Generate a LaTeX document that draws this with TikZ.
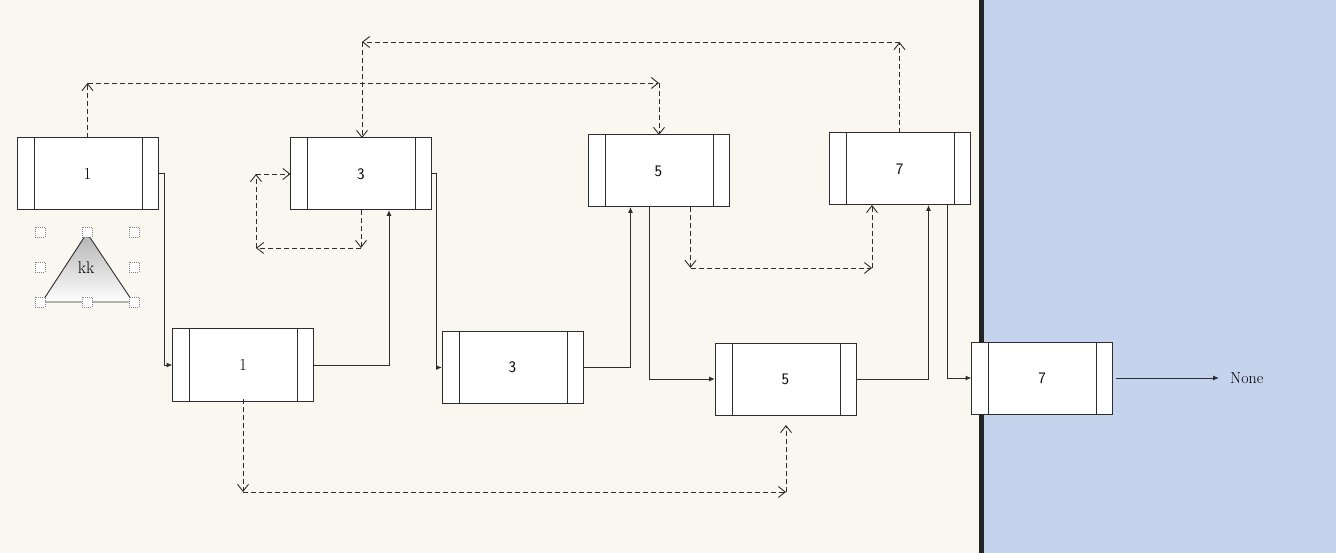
\documentclass[tikz,border=0pt]{standalone}
\usepackage{fontspec}
\usepackage{tikz}
\usetikzlibrary{arrows.meta, calc}

\definecolor{paper}{RGB}{249,247,240}
\definecolor{pane}{RGB}{197,211,237}
\definecolor{ink}{RGB}{45,45,45}

\begin{document}
\begin{tikzpicture}[
    x=1pt, y=-1pt,
    cell/.style={draw=ink, fill=white, rectangle, line width=1pt, outer sep=0pt,
        minimum width=141pt, minimum height=72pt, font=\fontsize{17}{19}\selectfont,
        path picture={
            \draw[ink, line width=1pt]
                ([xshift=17pt]path picture bounding box.south west) -- ([xshift=17pt]path picture bounding box.north west)
                ([xshift=-16pt]path picture bounding box.south east) -- ([xshift=-16pt]path picture bounding box.north east);
        }},
    sans/.style={font=\sffamily\fontsize{16}{18}\selectfont},
    next/.style={draw=ink, line width=1pt, -{Latex[length=6pt,width=5pt]}},
    link/.style={draw=ink, line width=0.9pt, dash pattern=on 5pt off 3pt, -{Straight Barb[length=7pt,width=11pt]}},
    handle/.style={draw=gray, line width=0.6pt, dash pattern=on 1pt off 1pt, fill=white}
]

    % Background panes
    \fill[paper] (0,0) rectangle (981,553);
    \fill[pane] (981,0) rectangle (1336,553);
    \fill[ink!80!black] (979,0) rectangle (983.5,553);
    \useasboundingbox (0,0) rectangle (1336,553);

    % Top row
    \node[cell] (A1) at (87.5,174) {1};
    \node[cell, sans] (A3) at (361,174) {3};
    \node[cell, sans] (A5) at (658.5,171) {5};
    \node[cell, sans] (A7) at (899.5,169) {7};

    % Bottom row
    \node[cell] (B1) at (243,365) {1};
    \node[cell, sans] (B3) at (512.5,367.5) {3};
    \node[cell, sans] (B5) at (785.5,379) {5};
    \node[cell, sans] (B7) at (1042,378) {7};
    \node[anchor=west, inner xsep=11pt, font=\fontsize{16}{18}\selectfont] (none) at (1219,378) {None};

    % Selected triangle
    \shade[top color=gray!60, bottom color=white, draw=ink, line width=0.9pt]
        (42,302) -- (87,233) -- (133,302) -- cycle;
    \node[font=\fontsize{17}{19}\selectfont] (kk) at (86,268) {kk};
    \foreach \hx/\hy in {40/232, 87/232, 134/232, 40/267, 134/267, 40/302, 87/302, 134/302}
        \draw[handle] (\hx-5,\hy-5) rectangle (\hx+5,\hy+5);

    % Solid links
    \draw[next] (A1.east) -- ++(6,0) |- (B1.west);
    \draw[next] (B1.east) -| ([xshift=28pt]A3.south);
    \draw[next] (A3.east) -- ++(5,0) |- (B3.west);
    \draw[next] (B3.east) -| ([xshift=-28pt]A5.south);
    \draw[next] ([xshift=-9pt]A5.south) |- (B5.west);
    \draw[next] (B5.east) -| ([xshift=29pt]A7.south);
    \draw[next] ([xshift=48pt]A7.south) |- (B7.west);
    \draw[next] ([xshift=3pt]B7.east) -- (none.west);

    % Dashed links
    \coordinate (d1) at (87.5,83);
    \coordinate (d2) at (659,83);
    \draw[link] (A1.north) -- (d1);
    \draw[link] (d1) -- (d2);
    \draw[link] (d2) -- (d2 |- A5.north);

    \coordinate (e1) at (899.5,42);
    \coordinate (e2) at (362,42);
    \draw[link] (A7.north) -- (e1);
    \draw[link] (e1) -- (e2);
    \draw[link] (e2) -- (e2 |- A3.north);

    \coordinate (f1) at (361,248);
    \coordinate (f2) at (256,248);
    \coordinate (f3) at (256,174);
    \draw[link] (A3.south) -- (f1);
    \draw[link] (f1) -- (f2);
    \draw[link] (f2) -- (f3);
    \draw[link] (f3) -- (A3.west);

    \coordinate (g1) at (690.5,268);
    \coordinate (g2) at (872,268);
    \draw[link] ([xshift=32pt]A5.south) -- (g1);
    \draw[link] (g1) -- (g2);
    \draw[link] (g2) -- (g2 |- A7.south);

    \coordinate (h1) at (243,492);
    \coordinate (h2) at (786,492);
    \draw[link] ([yshift=2pt]B1.south) -- (h1);
    \draw[link] (h1) -- (h2);
    \draw[link, shorten >=10pt] (h2) -- (h2 |- B5.south);

\end{tikzpicture}
\end{document}
